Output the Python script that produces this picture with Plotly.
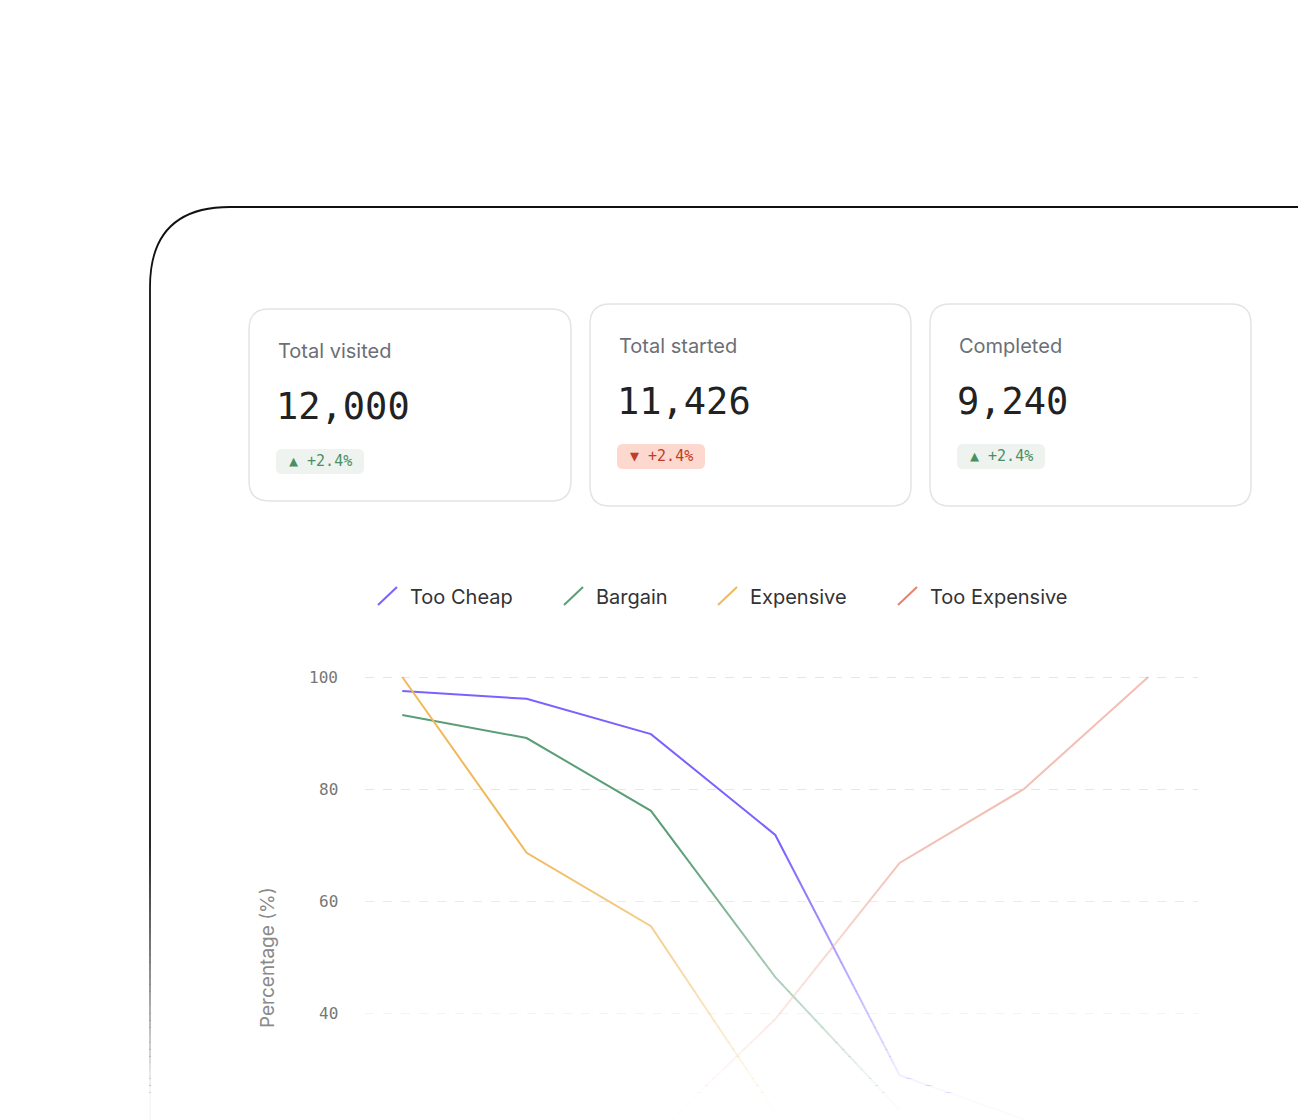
import plotly.graph_objects as go

OFF = 8
W, H = 1306 - OFF, 1120 - OFF
categories = [1, 2, 3, 4, 5, 6, 7]
too_cheap = [97.5, 96.1, 89.8, 71.8, 28.9, 21, None]
bargain = [93.2, 89.1, 76.1, 46.4, 22.7, None, None]
expensive = [100, 68.6, 55.5, 22.3, None, None, None]
too_expensive = [None, None, 17.5, 38.9, 66.8, 80, 100]
y_ticks = [40, 60, 80, 100]
series = [("Too Cheap", too_cheap, "#7b61ff", 1.0),
          ("Bargain", bargain, "#5a9e76", 1.0),
          ("Expensive", expensive, "#f0b95a", 1.0),
          ("Too Expensive", too_expensive, "#e8806a", 0.5)]
cards = [("Total visited", "12,000", "+2.4%", True, 249, 571, 309, 501),
         ("Total started", "11,426", "+2.4%", False, 590, 911, 304, 506),
         ("Completed", "9,240", "+2.4%", True, 930, 1251, 304, 506)]

def px(x): return (x - OFF) / W
def py(y): return 1 - (y - OFF) / H

fig = go.Figure()
for name, vals, col, op in series:
    fig.add_trace(go.Scatter(x=categories, y=vals, mode="lines", name=name,
                             line=dict(color=col, width=2), opacity=op, showlegend=False))

shapes, ann = [], []
def rrect(x0, x1, y0, y1, r, line, fill, lw=1.5):
    p = (f"M {px(x0+r)},{py(y0)} L {px(x1-r)},{py(y0)} Q {px(x1)},{py(y0)} {px(x1)},{py(y0+r)} "
         f"L {px(x1)},{py(y1-r)} Q {px(x1)},{py(y1)} {px(x1-r)},{py(y1)} L {px(x0+r)},{py(y1)} "
         f"Q {px(x0)},{py(y1)} {px(x0)},{py(y1-r)} L {px(x0)},{py(y0+r)} Q {px(x0)},{py(y0)} {px(x0+r)},{py(y0)} Z")
    shapes.append(dict(type="path", xref="paper", yref="paper", path=p,
                       line=dict(color=line, width=lw), fillcolor=fill, layer="below"))

def text(x, y, s, size, color, family="Inter", xanchor="left", **kw):
    ann.append(dict(x=px(x), y=py(y), xref="paper", yref="paper", text=s, showarrow=False,
                    xanchor=xanchor, yanchor="middle", font=dict(family=family, size=size, color=color), **kw))

r = 80
shapes.append(dict(type="path", xref="paper", yref="paper", layer="below",
    path=f"M {px(150)},{py(1125)} L {px(150)},{py(207+r)} Q {px(150)},{py(207)} {px(150+r)},{py(207)} L {px(1320)},{py(207)}",
    line=dict(color="#111", width=1.8)))

for title, num, delta, up, x0, x1, y0, y1 in cards:
    rrect(x0, x1, y0, y1, 20, "#e4e4e4", "white")
    tx = x0 + 27
    text(tx, y0 + 42, title, 20, "#6b6f76")
    text(tx - 2, y0 + 97, num, 37, "#222", family="DejaVu Sans Mono")
    rrect(tx, tx + 88, y0 + 140, y0 + 165, 6, "rgba(0,0,0,0)", "#eef3ef" if up else "#fcd8cf", 0)
    text(tx + 44, y0 + 152, ("▲ " if up else "▼ ") + delta,
         15, "#4a8f62" if up else "#c23b22", family="DejaVu Sans Mono", xanchor="center")

leg = [(378, "Too Cheap", "#7b61ff"), (564, "Bargain", "#5a9e76"),
       (718, "Expensive", "#f0b95a"), (898, "Too Expensive", "#e8806a")]
for x, name, col in leg:
    shapes.append(dict(type="line", xref="paper", yref="paper", x0=px(x), y0=py(605), x1=px(x + 19), y1=py(587),
                       line=dict(color=col, width=2)))
    text(x + 30, 597, name, 20, "#333")

for t in y_ticks:
    ann.append(dict(x=px(340), y=t, xref="paper", yref="y", text=str(t), showarrow=False, xanchor="right",
                    yanchor="middle", font=dict(family="DejaVu Sans Mono", size=16, color="#777")))
text(267, 958, "Percentage (%)", 19, "#8a8a8a", xanchor="center", textangle=-90)

n = 36
top, bot = 840, 1100
for i in range(n):
    a = top + (bot - top) * i / n
    b = top + (bot - top) * (i + 1) / n
    t = (i + 0.5) / n
    shapes.append(dict(type="rect", xref="paper", yref="paper", x0=px(140), x1=1, y0=py(b), y1=py(a),
                       fillcolor="white", opacity=min(0.97, t ** 1.1), line=dict(width=0), layer="above"))
shapes.append(dict(type="rect", xref="paper", yref="paper", x0=px(140), x1=1, y0=0, y1=py(1100),
                   fillcolor="white", opacity=0.97, line=dict(width=0), layer="above"))

ymin = 100 - (1120 - 677) / 5.6
ymax = 100 + (677 - 660) / 5.6
fig.update_layout(width=W, height=H, margin=dict(l=0, r=0, t=0, b=0),
                  paper_bgcolor="white", plot_bgcolor="white", shapes=shapes, annotations=ann,
                  xaxis=dict(domain=[px(365), px(1198)], range=[0.7, 7.4], showgrid=False, zeroline=False,
                             showticklabels=False, fixedrange=True),
                  yaxis=dict(domain=[0, py(660)], range=[ymin, ymax], tickvals=y_ticks, showticklabels=False,
                             gridcolor="#e6e6e6", griddash="dash", zeroline=False))
fig.write_html("out.html")
